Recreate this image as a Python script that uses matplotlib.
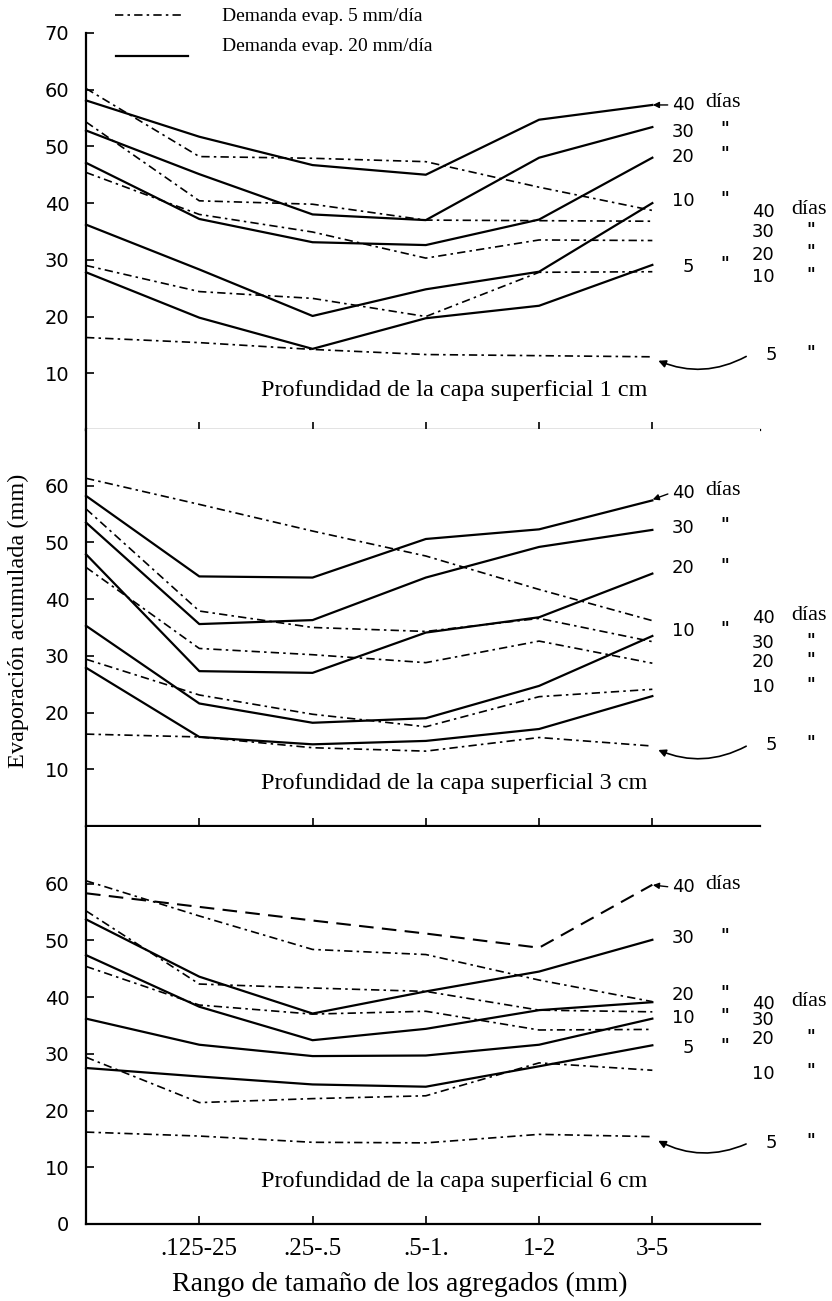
# -*- coding: utf-8 -*-
import matplotlib
matplotlib.use('Agg')
import matplotlib.pyplot as plt
from matplotlib.lines import Line2D

# categorias de tamano de agregado (la primera sin rotulo, sobre el eje)
x_pos = [0, 1, 2, 3, 4, 5]
x_labels = ['', '.125-25', '.25-.5', '.5-1.', '1-2', '3-5']
dias = [40, 30, 20, 10, 5]

# demanda evap. 20 mm/dia, filas = 40, 30, 20, 10, 5 dias
alta_1cm = [[58.1, 51.7, 46.7, 45.0, 54.7, 57.3],
            [52.8, 45.1, 38.0, 37.0, 48.0, 53.4],
            [47.1, 37.2, 33.1, 32.6, 37.1, 48.0],
            [36.2, 28.3, 20.1, 24.8, 27.9, 40.0],
            [27.8, 19.8, 14.3, 19.7, 21.9, 29.1]]
alta_3cm = [[58.2, 44.0, 43.8, 50.6, 52.3, 57.4],
            [53.5, 35.6, 36.3, 43.8, 49.2, 52.2],
            [47.9, 27.3, 27.0, 34.1, 36.8, 44.5],
            [35.3, 21.6, 18.2, 19.0, 24.7, 33.5],
            [27.9, 15.7, 14.4, 15.0, 17.1, 22.9]]
alta_6cm = [[58.3, 55.9, 53.5, 51.2, 48.7, 59.8],
            [53.7, 43.6, 37.1, 41.0, 44.5, 50.1],
            [47.4, 38.3, 32.4, 34.4, 37.7, 39.1],
            [36.2, 31.6, 29.6, 29.7, 31.6, 36.2],
            [27.5, 26.0, 24.6, 24.2, 27.8, 31.5]]

# demanda evap. 5 mm/dia
baja_1cm = [[60.2, 48.2, 47.9, 47.3, 42.8, 38.7],
            [54.3, 40.4, 39.8, 37.0, 36.9, 36.8],
            [45.4, 38.0, 34.9, 30.3, 33.5, 33.4],
            [29.0, 24.4, 23.2, 20.0, 27.8, 27.9],
            [16.3, 15.4, 14.2, 13.3, 13.1, 12.9]]
baja_3cm = [[61.3, 56.7, 52.0, 47.6, 41.7, 36.2],
            [55.9, 37.9, 35.0, 34.3, 36.6, 32.5],
            [45.6, 31.3, 30.2, 28.8, 32.6, 28.7],
            [29.4, 23.1, 19.7, 17.5, 22.8, 24.1],
            [16.2, 15.7, 13.8, 13.2, 15.6, 14.1]]
baja_6cm = [[60.5, 54.3, 48.4, 47.5, 43.0, 39.2],
            [55.2, 42.3, 41.6, 41.0, 37.7, 37.4],
            [45.4, 38.6, 37.0, 37.5, 34.2, 34.3],
            [29.4, 21.4, 22.1, 22.6, 28.4, 27.1],
            [16.2, 15.5, 14.4, 14.3, 15.8, 15.4]]

# posicion vertical de los rotulos de la derecha
rot_alta_1cm = [57.3, 52.6, 48.2, 40.3, 28.8]
rot_baja_1cm = [38.5, 34.9, 30.9, 27.0, 13.2]
rot_alta_3cm = [58.7, 52.6, 45.5, 34.4]
rot_baja_3cm = [36.7, 32.3, 28.9, 24.5, 14.3]
rot_alta_6cm = [59.4, 50.4, 40.4, 36.3, 31.0]
rot_baja_6cm = [38.8, 36.0, 32.6, 26.5, 14.3]

paneles = [
    (alta_1cm, baja_1cm, rot_alta_1cm, rot_baja_1cm, '1', [10, 20, 30, 40, 50, 60, 70], False),
    (alta_3cm, baja_3cm, rot_alta_3cm, rot_baja_3cm, '3', [10, 20, 30, 40, 50, 60], False),
    (alta_6cm, baja_6cm, rot_alta_6cm, rot_baja_6cm, '6', [0, 10, 20, 30, 40, 50, 60], True),
]

SERIF = 'Liberation Serif'
SANS = 'DejaVu Sans'
DASHDOT = (0, (5, 2.5, 1.5, 2.5))

fig = plt.figure(figsize=(8.32, 13.01), dpi=100)
left, width, height = 0.1034, 0.81, 0.3052
bottoms = [0.6695, 0.3651, 0.0592]


def rotulo(ax, x, y, num, sufijo, xs):
    ax.text(x, y, str(num), fontsize=13, family=SANS, va='center', ha='left', clip_on=False)
    if sufijo == u'días':
        ax.text(xs, y + 0.4, sufijo, fontsize=16, family=SERIF,
                va='center', ha='left', clip_on=False)
    elif sufijo:
        ax.text(xs, y + 0.4, sufijo, fontsize=12, family=SANS, weight='bold',
                va='center', ha='left', clip_on=False)


for (alta, baja, ra, rb, cm, yt, last), b in zip(paneles, bottoms):
    ax = fig.add_axes([left, b, width, height])
    for i, d in enumerate(dias):
        if last and d == 40:
            ax.plot(x_pos, alta[i], color='black', lw=1.5, ls=(0, (7, 4)), clip_on=False)
        else:
            ax.plot(x_pos, alta[i], color='black', lw=1.6, clip_on=False)
        ax.plot(x_pos, baja[i], color='black', lw=1.2, ls=DASHDOT, clip_on=False)
    ax.set_xlim(0, 5.95)
    ax.set_ylim(0, 70)
    ax.set_yticks(yt)
    ax.set_xticks(x_pos[1:])
    for s in ['top', 'right']:
        ax.spines[s].set_visible(False)
    for s in ['left', 'bottom']:
        ax.spines[s].set_linewidth(1.6)
    ax.tick_params(direction='in', length=6, width=1.2)
    ax.tick_params(axis='y', labelsize=14, pad=12)
    if last:
        ax.set_xticklabels(x_labels[1:], fontsize=18, family=SERIF)
        ax.tick_params(axis='x', pad=10)
    else:
        ax.set_xticklabels([])
    for lab in ax.get_yticklabels():
        lab.set_family(SANS)
    ax.text(3.25, 7.5 if cm != '1' else 7.0,
            'Profundidad de la capa superficial %s cm' % cm,
            fontsize=17.5, family=SERIF, ha='center', va='center')

    # rotulos 20 mm/dia
    for i, y in enumerate(ra):
        d = dias[i]
        if d == 40:
            rotulo(ax, 5.17, y, d, u'días', 5.47)
            ax.annotate('', xy=(4.98, alta[i][-1]), xytext=(5.16, y),
                        arrowprops=dict(arrowstyle='-|>', color='black', lw=1, mutation_scale=9))
        else:
            rotulo(ax, 5.17 if d >= 10 else 5.27, y, d, '"', 5.6)
    # rotulos 5 mm/dia
    for i, y in enumerate(rb):
        d = dias[i]
        if d == 40:
            rotulo(ax, 5.88, y, d, u'días', 6.23)
        elif d == 5:
            rotulo(ax, 6.0, y, d, '"', 6.36)
            ax.annotate('', xy=(5.03, baja[i][-1] - 0.5), xytext=(5.85, y),
                        arrowprops=dict(arrowstyle='-|>', color='black', lw=1.2, mutation_scale=11,
                                        connectionstyle='arc3,rad=-0.25'))
        else:
            rotulo(ax, 5.88, y, d, '' if (last and d == 30) else '"', 6.36)

# leyenda
fig.add_artist(Line2D([0.138, 0.222], [0.9885, 0.9885], color='black', lw=1.2, ls=DASHDOT,
                      transform=fig.transFigure))
fig.add_artist(Line2D([0.140, 0.226], [0.957, 0.957], color='black', lw=1.6,
                      transform=fig.transFigure))
fig.text(0.267, 0.9875, u'Demanda evap. 5 mm/día', fontsize=14, family=SERIF, va='center')
fig.text(0.267, 0.9645, u'Demanda evap. 20 mm/día', fontsize=14, family=SERIF, va='center')

fig.text(0.022, 0.523, u'Evaporación acumulada (mm)', rotation=90, fontsize=17.5,
         family=SERIF, ha='center', va='center')
fig.text(0.48, 0.0125, u'Rango de tamaño de los agregados (mm)', fontsize=20,
         family=SERIF, ha='center', va='center')

fig.savefig('out.png', dpi=100)
